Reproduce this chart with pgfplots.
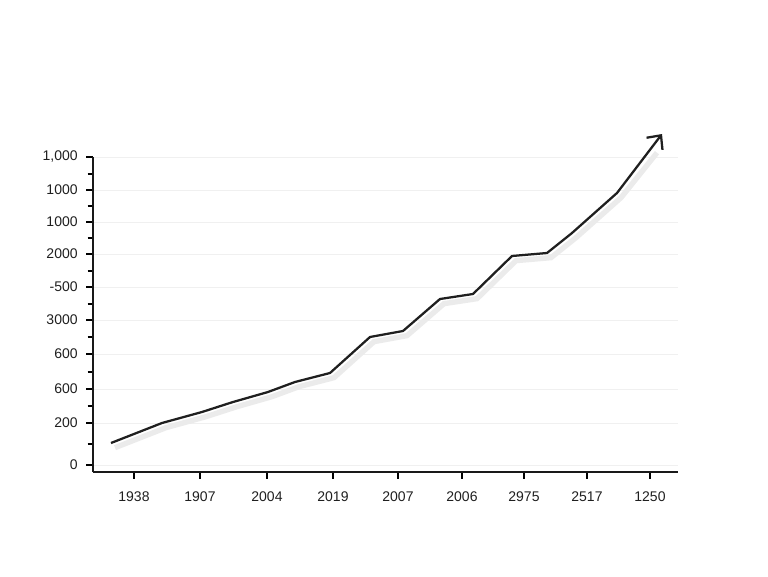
\documentclass[border=0pt]{standalone}
\usepackage{pgfplots}
\pgfplotsset{compat=1.18}
\usepackage{fontspec}
\setmainfont{Liberation Sans}
\usetikzlibrary{arrows.meta}
\begin{document}
\begin{tikzpicture}[x=0.75pt,y=0.75pt]
\useasboundingbox (-93*0.75pt,-104*0.75pt) rectangle (675*0.75pt,472*0.75pt);
\begin{axis}[
  scale only axis,
  width=438.75pt, height=236.25pt,
  xmin=0, xmax=585, ymin=0, ymax=315,
  clip=false,
  axis lines=left,
  axis line style={black!90, line width=1.2pt, -},
  xtick={41,107,174,240,305,369,431,494,557},
  xticklabels={1938,1907,2004,2019,2007,2006,2975,2517,1250},
  ytick={7,49,83,118,152,185,218,250,282,315},
  yticklabels={0,200,600,600,3000,-500,2000,1000,1000,{1,000}},
  minor ytick={28,66,100,135,168,201,234,266,298},
  minor tick length=4pt,
  major tick length=5pt,
  tick style={black, line width=0.8pt},
  tick align=outside,
  ymajorgrids,
  major grid style={black!6, line width=0.6pt},
  tick label style={font=\fontsize{10.5}{12}\selectfont, text=black!88},
  xticklabel style={yshift=-6pt},
  yticklabel style={xshift=-3pt},
  /pgf/number format/assume math mode=true,
]
\addplot[black!8, line width=4pt, xshift=3pt, yshift=-3.5pt] coordinates {
 (18,29) (69,49) (109,60) (140,70) (175,80) (202,90) (237,99) (277,135) (310,141) (347,173) (380,178) (419,216) (454,219) (479,239) (524,279) (560,324)};
\addplot[black!88, line width=1.7pt, line join=round, -{Straight Barb[length=8pt,width=15pt,line width=1.7pt]}] coordinates {
 (18,29) (69,49) (109,60) (140,70) (175,80) (202,90) (237,99) (277,135) (310,141) (347,173) (380,178) (419,216) (454,219) (479,239) (524,279) (569,338)};
\end{axis}
\end{tikzpicture}
\end{document}
